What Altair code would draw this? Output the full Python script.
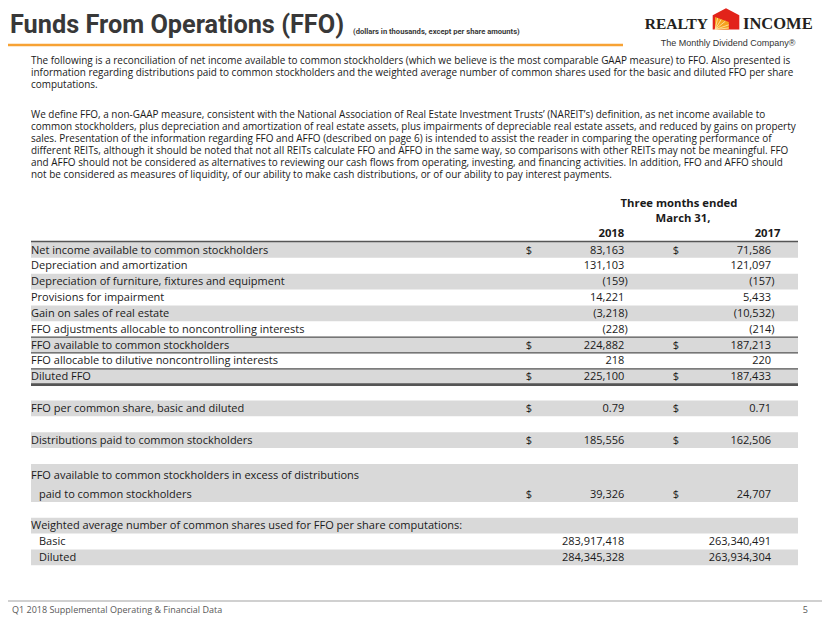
import altair as alt
import pandas as pd

# ---------------- data ----------------
title_text = "Funds From Operations (FFO)"
subtitle_text = "(dollars in thousands,  except per share amounts)"
brand_left = "REALTY"
brand_right = "INCOME"
tagline = "The Monthly Dividend Company®"
footer_text = "Q1 2018 Supplemental Operating & Financial Data"
page_number = "5"

para1 = [
    "The following is a reconciliation of net income available to common stockholders (which we believe is the most comparable GAAP measure) to FFO. Also presented is",
    "information regarding distributions paid to common stockholders and the weighted average number of common shares used for the basic and diluted FFO per share",
    "computations.",
]
para2 = [
    "We define FFO, a non-GAAP measure, consistent with the National Association of Real Estate Investment Trusts’ (NAREIT’s) definition, as net income available to",
    "common stockholders, plus depreciation and amortization of real estate assets, plus impairments of depreciable real estate assets, and reduced by gains on property",
    "sales. Presentation of the information regarding FFO and AFFO (described on page 6) is intended to assist the reader in comparing the operating performance of",
    "different REITs, although it should be noted that not all REITs calculate FFO and AFFO in the same way, so comparisons with other REITs may not be meaningful. FFO",
    "and AFFO should not be considered as alternatives to reviewing our cash flows from operating, investing, and financing activities.  In addition, FFO and AFFO should",
    "not be considered as measures of liquidity, of our ability to make cash distributions, or of our ability to pay interest payments.",
]

header_period = ["Three months ended", "March 31,"]
years = ["2018", "2017"]

row_labels = [
    "Net income available to common stockholders",
    "Depreciation and amortization",
    "Depreciation of furniture, fixtures and equipment",
    "Provisions for impairment",
    "Gain on sales of real estate",
    "FFO adjustments allocable to noncontrolling interests",
    "FFO available to common stockholders",
    "FFO allocable to dilutive noncontrolling interests",
    "Diluted FFO",
    "",
    "FFO per common share, basic and diluted",
    "",
    "Distributions paid to common stockholders",
    "",
    "FFO available to common stockholders in excess of distributions",
    "",
    "Weighted average number of common shares used for FFO per share computations:",
    "Basic",
    "Diluted",
]
row_sublabels = ["", "", "", "", "", "", "", "", "", "", "", "", "", "",
                 "paid to common stockholders", "", "", "", ""]
row_indent = [0, 0, 0, 0, 0, 0, 0, 0, 0, 0, 0, 0, 0, 0, 0, 0, 0, 1, 1]
values_2018 = [83163, 131103, -159, 14221, -3218, -228, 224882, 218, 225100, None,
               0.79, None, 185556, None, 39326, None, None, 283917418, 284345328]
values_2017 = [71586, 121097, -157, 5433, -10532, -214, 187213, 220, 187433, None,
               0.71, None, 162506, None, 24707, None, None, 263340491, 263934304]
row_decimals = [0, 0, 0, 0, 0, 0, 0, 0, 0, 0, 2, 0, 0, 0, 0, 0, 0, 0, 0]
row_dollar = [1, 0, 0, 0, 0, 0, 1, 0, 1, 0, 1, 0, 1, 0, 1, 0, 0, 0, 0]

# ---------------- layout (page pixels) ----------------
OFF = 8
W, H = 830 - 2 * OFF, 623 - 2 * OFF
def P(v):
    return v - OFF

BODY_FONT = "Open Sans"
TITLE_FONT = "Roboto"
TXT = "#1a1a1a"
TABLE_LEFT, TABLE_RIGHT = 31, 798
ROW_TOP0, ROW_H, TALL_H = 242.0, 15.85, 38.0
X_DOLLAR = [529, 676]
X_NUM_POS = [624.3, 771.0]
X_NUM_NEG = [627.8, 774.5]


def fmt(v, dec):
    if v is None:
        return ""
    s = f"{abs(v):,.{dec}f}"
    return f"({s})" if v < 0 else s


bands, labels, nums, dollars, rules = [], [], [], [], []
top = ROW_TOP0
row_bounds = []
for i, lab in enumerate(row_labels):
    h = TALL_H if row_sublabels[i] else ROW_H
    bottom = top + h
    row_bounds.append((top, bottom))
    if i % 2 == 0:
        bands.append(dict(x=P(TABLE_LEFT), x2=P(TABLE_RIGHT), y=P(top), y2=P(bottom)))
    if row_sublabels[i]:
        y_lab, y_val = top + 12.5, top + 31.5
        labels.append(dict(x=P(TABLE_LEFT), y=P(y_lab), text=lab))
        labels.append(dict(x=P(TABLE_LEFT + 8), y=P(y_val), text=row_sublabels[i]))
    else:
        y_lab = y_val = top + h / 2 + 0.6
        if lab:
            labels.append(dict(x=P(TABLE_LEFT + 8 * row_indent[i]), y=P(y_lab), text=lab))
    for k, vals in enumerate([values_2018, values_2017]):
        v = vals[i]
        if v is not None:
            xx = X_NUM_NEG[k] if v < 0 else X_NUM_POS[k]
            nums.append(dict(x=P(xx), y=P(y_val), text=fmt(v, row_decimals[i])))
            if row_dollar[i]:
                dollars.append(dict(x=P(X_DOLLAR[k]), y=P(y_val), text="$"))
    top = bottom

# rules: top of table and under selected rows
rule_rows = {-1: 1.4, 5: 1.2, 6: 1.2, 7: 1.2, 8: 2.6}
for r, w in rule_rows.items():
    yy = row_bounds[0][0] - 0.5 if r < 0 else row_bounds[r][1]
    rules.append(dict(x=P(TABLE_LEFT), x2=P(TABLE_RIGHT), y=P(yy), w=w))


def X(f="x"):
    return alt.X(f"{f}:Q", scale=None, axis=None)


def Y(f="y"):
    return alt.Y(f"{f}:Q", scale=None, axis=None)


def text_layer(rows, **kw):
    return alt.Chart(pd.DataFrame(rows)).mark_text(**kw).encode(
        x=X(), y=Y(), text="text:N")


layers = []

# shaded bands
layers.append(alt.Chart(pd.DataFrame(bands)).mark_rect(color="#d9d9d9").encode(
    x=X(), x2=alt.X2("x2"), y=Y(), y2=alt.Y2("y2")))

# rules
layers.append(alt.Chart(pd.DataFrame(rules)).mark_rule(color="#555555").encode(
    x=X(), x2=alt.X2("x2"), y=Y(),
    size=alt.Size("w:Q", scale=None, legend=None)))

# orange title underline and footer line
deco = pd.DataFrame([
    dict(x=P(8), x2=P(623), y=P(45), w=2.5, c="#f7a234"),
    dict(x=P(8), x2=P(822), y=P(601), w=2.0, c="#d0d0d0"),
])
layers.append(alt.Chart(deco).mark_rule().encode(
    x=X(), x2=alt.X2("x2"), y=Y(),
    size=alt.Size("w:Q", scale=None, legend=None),
    color=alt.Color("c:N", scale=None, legend=None)))

# title & subtitle
layers.append(text_layer([dict(x=P(10), y=P(33), text=title_text)],
                         align="left", baseline="alphabetic", fontSize=25.3, fontWeight="bold",
                         font=TITLE_FONT, color="#383838"))
layers.append(text_layer([dict(x=P(353), y=P(33.5), text=subtitle_text)],
                         align="left", baseline="alphabetic", fontSize=7.6, fontWeight="bold",
                         font=TITLE_FONT, color="#383838"))

# logo
layers.append(text_layer([dict(x=P(708), y=P(28.5), text=brand_left)],
                         align="right", baseline="alphabetic", fontSize=15.5, fontWeight="bold",
                         font="Liberation Serif", color="#231f20"))
layers.append(text_layer([dict(x=P(743), y=P(28.5), text=brand_right)],
                         align="left", baseline="alphabetic", fontSize=16.5, fontWeight="bold",
                         font="Liberation Serif", color="#231f20"))
layers.append(text_layer([dict(x=P(728), y=P(43), text=tagline)],
                         align="center", baseline="middle", fontSize=9,
                         font="Liberation Sans", color="#333333"))
icon = pd.DataFrame([dict(x=P(726), y=P(19.5))])
icon_red = "M0,-0.8 L0.95,-0.3 L0.95,0.72 L0,0.72 L-0.95,0.72 L-0.95,-0.3 Z"
icon_orange = "M-0.78,-0.18 L0.2,0.18 L0.2,0.72 L-0.78,0.72 Z"
icon_rays = ("M-0.78,0.72 L-0.6,-0.1 M-0.78,0.72 L-0.35,0.0 M-0.78,0.72 L-0.05,0.12 "
             "M-0.78,0.72 L0.2,0.38 M-0.78,0.72 L0.2,0.6")
layers.append(alt.Chart(icon).mark_point(shape=icon_red, size=784, filled=True,
                                         color="#e2231a", opacity=1).encode(x=X(), y=Y()))
layers.append(alt.Chart(icon).mark_point(shape=icon_orange, size=784, filled=True,
                                         color="#f6a21e", opacity=1).encode(x=X(), y=Y()))
layers.append(alt.Chart(icon).mark_point(shape=icon_rays, size=784, filled=False,
                                         color="#ffe9b0", strokeWidth=0.8, opacity=1).encode(x=X(), y=Y()))

# paragraphs
para_rows = []
for j, line in enumerate(para1):
    para_rows.append(dict(x=P(31), y=P(61 + 12 * j), text=line))
for j, line in enumerate(para2):
    para_rows.append(dict(x=P(31), y=P(115 + 12 * j), text=line))
layers.append(text_layer(para_rows, align="left", baseline="middle", fontSize=9.95,
                         font=BODY_FONT, color=TXT))

# column headers
hdr = [
    dict(x=P(679), y=P(204), text=header_period[0]),
    dict(x=P(683), y=P(219), text=header_period[1]),
]
layers.append(text_layer(hdr, align="center", baseline="middle", fontSize=11.3,
                         fontWeight="bold", font=BODY_FONT, color=TXT))
yrs = [dict(x=P(624.3), y=P(233.5), text=years[0]), dict(x=P(780.5), y=P(233.5), text=years[1])]
layers.append(text_layer(yrs, align="right", baseline="middle", fontSize=11.3,
                         fontWeight="bold", font=BODY_FONT, color=TXT))

# table body
layers.append(text_layer(labels, align="left", baseline="middle", fontSize=11.0,
                         font=BODY_FONT, color=TXT))
layers.append(text_layer(nums, align="right", baseline="middle", fontSize=11.0,
                         font=BODY_FONT, color=TXT))
layers.append(text_layer(dollars, align="center", baseline="middle", fontSize=11.0,
                         font=BODY_FONT, color=TXT))

# footer
layers.append(text_layer([dict(x=P(12), y=P(609.5), text=footer_text)],
                         align="left", baseline="middle", fontSize=9,
                         font=BODY_FONT, color="#595959"))
layers.append(text_layer([dict(x=P(808), y=P(609.5), text=page_number)],
                         align="right", baseline="middle", fontSize=9,
                         font=BODY_FONT, color="#595959"))

chart = alt.layer(*layers).properties(
    width=W, height=H, padding=0, autosize=alt.AutoSizeParams(type="none"),
    background="white",
).configure_view(stroke=None)

chart.save("out.html", embed_options={"renderer": "svg", "actions": False})
